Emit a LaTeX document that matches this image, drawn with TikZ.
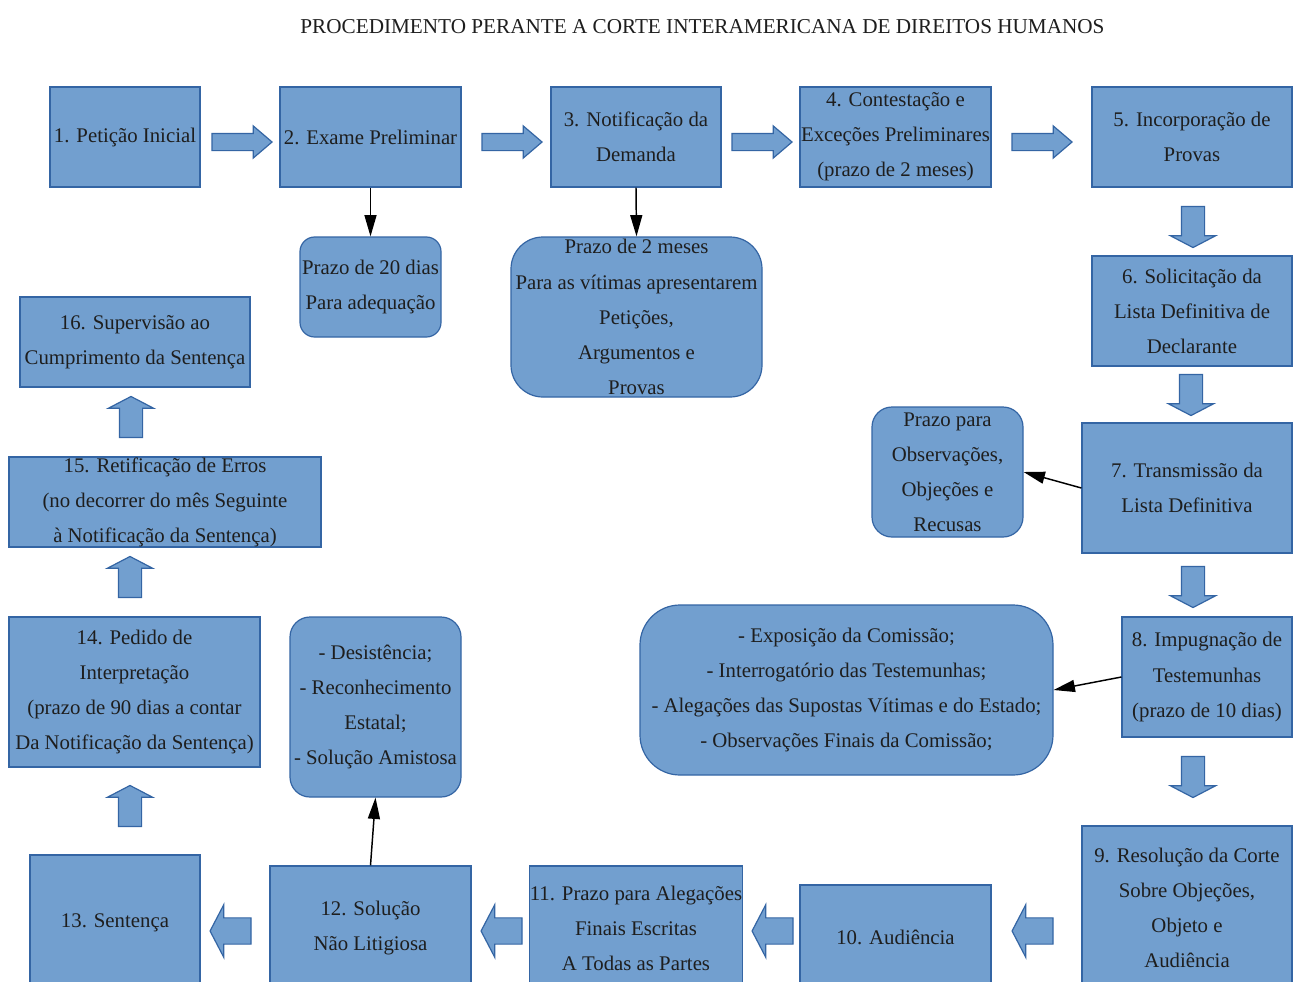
\documentclass[tikz,border=0pt]{standalone}
\usepackage{fontspec}
\setmainfont{Liberation Serif}
\usetikzlibrary{shapes.arrows,arrows.meta}
\definecolor{boxfill}{HTML}{729FCF}
\definecolor{boxline}{HTML}{3465A4}
\definecolor{txt}{HTML}{1E1E1E}
\begin{document}
\begin{tikzpicture}[x=0.75pt,y=-0.75pt,
  base/.style={fill=boxfill, draw=boxline, line width=0.9pt, inner sep=0pt, align=center, text=txt, font=\fontsize{15.6}{26.3}\selectfont},
  box/.style 2 args={base, rectangle, minimum width=#1*0.75pt, minimum height=#2*0.75pt},
  rbox/.style n args={3}{base, rectangle, rounded corners=#3, minimum width=#1*0.75pt, minimum height=#2*0.75pt},
  barrow/.style={single arrow, fill=boxfill, draw=boxline, line width=0.9pt, inner xsep=0pt},
  rarrow/.style={barrow, minimum height=45pt, inner ysep=6pt, single arrow head extend=5.6pt, single arrow tip angle=81},
  varrow/.style={barrow, minimum height=30.75pt, inner ysep=8.25pt, single arrow head extend=8.25pt, single arrow tip angle=125},
  harrow/.style={barrow, minimum height=30.75pt, inner ysep=9.4pt, single arrow head extend=9.75pt, single arrow tip angle=125},
  conn/.style={-{Triangle[length=16pt,width=9pt]}, line width=1.1pt, black}]
\useasboundingbox (0,0) rectangle (1293,982);
\fill[white] (0,0) rectangle (1293,982);
\clip (0,0) rectangle (1293,982);

\node[text=txt, font=\fontsize{15.9}{18}\selectfont] (title) at (702.5,27) {PROCEDIMENTO PERANTE A CORTE INTERAMERICANA DE DIREITOS HUMANOS};

% main boxes
\node[box={150}{100}] (n1) at (125,137) {1. Petição Inicial};
\node[box={181}{100}] (n2) at (370.5,137) {2. Exame Preliminar};
\node[box={170}{100}] (n3) at (636,137) {3. Notificação da\\Demanda};
\node[box={191}{100}] (n4) at (895.5,137) {4. Contestação e\\Exceções Preliminares\\(prazo de 2 meses)};
\node[box={200}{100}] (n5) at (1192,137) {5. Incorporação de\\Provas};
\node[box={200}{110}] (n6) at (1192,311) {6. Solicitação da\\Lista Definitiva de\\Declarante};
\node[box={210}{130}] (n7) at (1187,488) {7. Transmissão da\\Lista Definitiva};
\node[box={170}{120}] (n8) at (1207,677) {8. Impugnação de\\Testemunhas\\(prazo de 10 dias)};
\node[box={210}{164}] (n9) at (1187,908) {9. Resolução da Corte\\Sobre Objeções,\\Objeto e\\Audiência};
\node[box={191}{105}] (n10) at (895.5,937.5) {10. Audiência};
\node[box={212}{124}] (n11) at (636,928) {11. Prazo para Alegações\\Finais Escritas\\A Todas as Partes};
\node[box={201}{124}] (n12) at (370.5,928) {12. Solução\\Não Litigiosa};
\node[box={170}{135}] (n13) at (115,922.5) {13. Sentença};
\node[box={251}{150}] (n14) at (134.5,692) {14. Pedido de\\Interpretação\\(prazo de 90 dias a contar\\Da Notificação da Sentença)};
\node[box={312}{90}] (n15) at (165,502) {15. Retificação de Erros\\(no decorrer do mês Seguinte\\à Notificação da Sentença)};
\node[box={230}{90}] (n16) at (135,342) {16. Supervisão ao\\Cumprimento da Sentença};

% rounded boxes
\node[rbox={141}{100}{11pt}] (nA) at (370.5,287) {Prazo de 20 dias\\Para adequação};
\node[rbox={251}{160}{24pt}] (nB) at (636.5,317) {Prazo de 2 meses\\Para as vítimas apresentarem\\Petições,\\Argumentos e\\Provas};
\node[rbox={151}{130}{15pt}] (nC) at (947.5,472) {Prazo para\\Observações,\\Objeções e\\Recusas};
\node[rbox={413}{170}{30pt}] (nD) at (846.5,690) {- Exposição da Comissão;\\- Interrogatório das Testemunhas;\\- Alegações das Supostas Vítimas e do Estado;\\- Observações Finais da Comissão;};
\node[rbox={171}{180}{15pt}] (nE) at (375.5,707) {- Desistência;\\- Reconhecimento\\Estatal;\\- Solução Amistosa};

% block arrows
\node[rarrow] (r12) at (237,142) {};
\node[rarrow] (r23) at (507,142) {};
\node[rarrow] (r34) at (757,142) {};
\node[rarrow] (r45) at (1037,142) {};
\node[varrow, rotate=-90] (d56) at (1193,224) {};
\node[varrow, rotate=-90] (d67) at (1191,392) {};
\node[varrow, rotate=-90] (d78) at (1193,584) {};
\node[varrow, rotate=-90] (d89) at (1193,774) {};
\node[harrow, rotate=180] (l910) at (1036,931) {};
\node[harrow, rotate=180] (l1011) at (776,931) {};
\node[harrow, rotate=180] (l1112) at (505,931) {};
\node[harrow, rotate=180] (l1213) at (234,931) {};
\node[varrow, rotate=90] (u1314) at (130,809) {};
\node[varrow, rotate=90] (u1415) at (130,580) {};
\node[varrow, rotate=90] (u1516) at (131,420) {};

% connectors
\draw[conn] (n2.south) -- (nA.north);
\draw[conn] (n3.south) -- (nB.north);
\draw[conn] (n7.west) -- (nC.east);
\draw[conn] (n8.west) -- (nD.east);
\draw[conn] (n12.north) -- (nE.south);
\end{tikzpicture}
\end{document}
